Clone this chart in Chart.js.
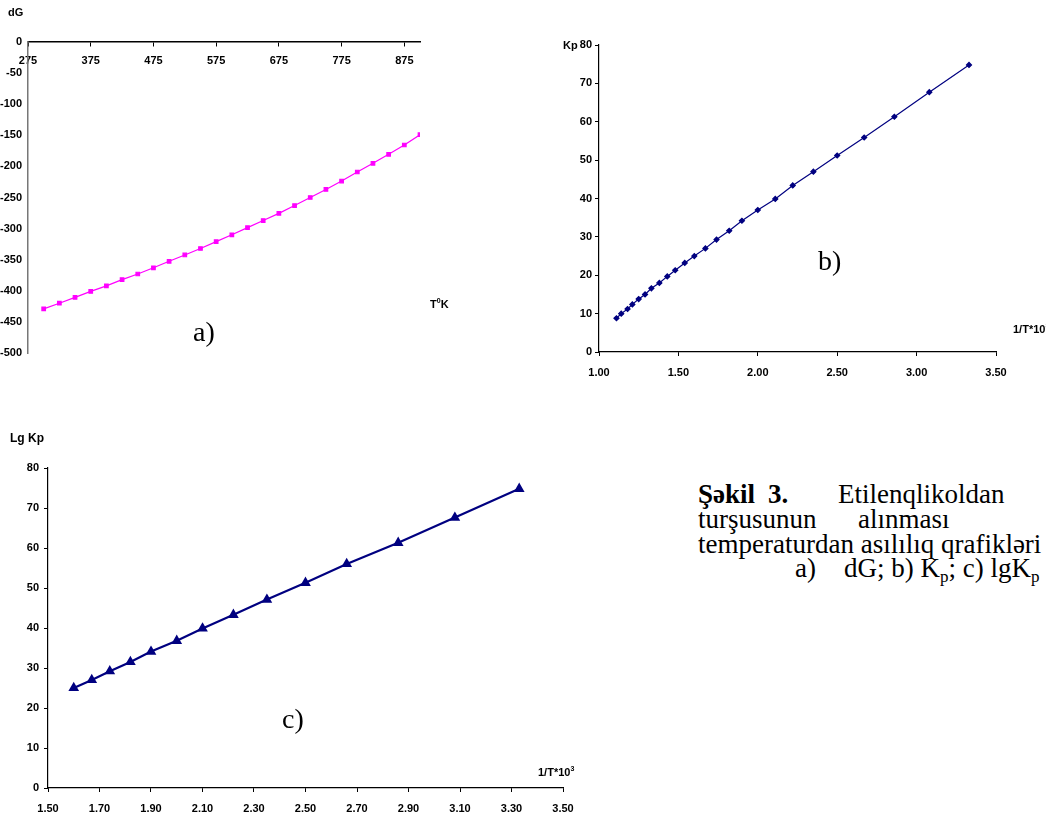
<!DOCTYPE html>
<html>
<head>
<meta charset="utf-8">
<script src="https://cdn.jsdelivr.net/npm/chart.js@4.4.0/dist/chart.umd.min.js"></script>
<style>
  html, body { margin: 0; padding: 0; background: #fff; overflow: hidden; }
  #page { position: relative; width: 1046px; height: 814px; overflow: hidden; }
  canvas { position: absolute; }
  .lbl { position: absolute; font-family: 'Liberation Sans', Arial, sans-serif; font-weight: bold; font-size: 11px; color: #000; white-space: nowrap; }
  .big { position: absolute; font-family: 'Liberation Serif', 'Times New Roman', serif; font-size: 28px; color: #000; }
  .cap { position: absolute; font-family: 'Liberation Serif', 'Times New Roman', serif; font-size: 27px; line-height: 27px; color: #000; white-space: nowrap; }
  sup { font-size: 7px; vertical-align: 5px; }
  .cap sub { font-size: 17px; vertical-align: -5px; }
</style>
</head>
<body>
<div id="page">
  <canvas id="chartA" width="440" height="370" style="left:0;top:0"></canvas>
  <canvas id="chartB" width="506" height="360" style="left:540px;top:30px"></canvas>
  <canvas id="chartC" width="600" height="394" style="left:0;top:420px"></canvas>

  <div class="lbl" style="left:8px;top:6px">dG</div>
  <div class="lbl" style="left:430px;top:297px">T<sup>0</sup>K</div>
  <div class="big" style="left:193px;top:316px">a)</div>

  <div class="lbl" style="left:563px;top:39px">Kp</div>
  <div class="big" style="left:818px;top:245px">b)</div>
  <div class="lbl" style="left:1013px;top:322px">1/T*10<sup>3</sup></div>

  <div class="lbl" style="left:10px;top:431px;font-size:12px">Lg Kp</div>
  <div class="big" style="left:282px;top:703px">c)</div>
  <div class="lbl" style="left:538px;top:765px">1/T*10<sup>3</sup></div>

  <div class="cap" style="left:698px;top:481px"><b>Şəkil</b></div>
  <div class="cap" style="left:768px;top:481px"><b>3.</b></div>
  <div class="cap" style="left:838px;top:481px">Etilenqlikoldan</div>
  <div class="cap" style="left:698px;top:506px">turşusunun</div>
  <div class="cap" style="left:858px;top:506px">alınması</div>
  <div class="cap" style="left:698px;top:531px">temperaturdan asılılıq qrafikləri</div>
  <div class="cap" style="left:795px;top:555px">a)</div>
  <div class="cap" style="left:844px;top:555px">dG; b) K<sub>p</sub>; c) lgK<sub>p</sub></div>
</div>

<script>
// a) dG vs temperature
var tempK = [300, 325, 350, 375, 400, 425, 450, 475, 500, 525, 550, 575, 600,
             625, 650, 675, 700, 725, 750, 775, 800, 825, 850, 875, 900];
var dG = [-429, -420, -410.5, -401, -392, -382, -373, -363, -352.6, -342.4, -332, -321, -310,
          -298.5, -287, -275.5, -263, -250, -237, -223.5, -209, -195, -180.6, -165.6, -149];
var tempTicks = [275, 375, 475, 575, 675, 775, 875];

// b) Kp vs 1/T*10^3
var invTb = [1.11, 1.14, 1.18, 1.21, 1.25, 1.29, 1.33, 1.38, 1.43, 1.48, 1.54, 1.60, 1.67,
             1.74, 1.82, 1.90, 2.00, 2.11, 2.22, 2.35, 2.50, 2.67, 2.86, 3.08, 3.33];
var kp = [8.8, 10.0, 11.2, 12.4, 13.8, 15.0, 16.6, 18.0, 19.7, 21.3, 23.2, 25.0, 27.0,
          29.3, 31.6, 34.2, 37.0, 39.9, 43.4, 47.0, 51.2, 55.9, 61.3, 67.7, 74.8];
var invTbTicks = [1.00, 1.50, 2.00, 2.50, 3.00, 3.50];

// c) lg Kp vs 1/T*10^3
var invTc = [1.60, 1.67, 1.74, 1.82, 1.90, 2.00, 2.10, 2.22, 2.35, 2.50, 2.66, 2.86, 3.08, 3.33];
var lgKp = [25.0, 27.0, 29.2, 31.5, 34.1, 36.8, 39.9, 43.3, 47.1, 51.3, 56.0, 61.3, 67.6, 74.8];
var invTcTicks = [1.50, 1.70, 1.90, 2.10, 2.30, 2.50, 2.70, 2.90, 3.10, 3.30, 3.50];

var kpTicks = [0, 10, 20, 30, 40, 50, 60, 70, 80];

var tickFont = { family: "'Liberation Sans', Arial, sans-serif", size: 11, weight: 'bold' };

function toPoints(xs, ys) {
  return xs.map(function (x, i) { return { x: x, y: ys[i] }; });
}

function fixTicks(list) {
  return function (scale) {
    scale.ticks = list.map(function (v) { return { value: v }; });
  };
}

function baseOptions() {
  return {
    responsive: false,
    animation: false,
    plugins: { legend: { display: false }, tooltip: { enabled: false } }
  };
}

// chart a
var optA = baseOptions();
optA.layout = { padding: { left: 0, right: 20, top: 42, bottom: 17 } };
optA.scales = {
  x: {
    type: 'linear', position: { y: 0 }, min: 275, max: 900,
    afterBuildTicks: fixTicks(tempTicks),
    grid: { drawOnChartArea: false, drawTicks: true, tickLength: 4, color: '#000' },
    border: { display: true, color: '#000', width: 1.5 },
    ticks: { font: tickFont, color: '#000', padding: 8, maxRotation: 0 }
  },
  y: {
    type: 'linear', min: -500, max: 0,
    ticks: { stepSize: 50, font: tickFont, color: '#000', padding: 6 },
    grid: { drawOnChartArea: false, drawTicks: false, color: '#777' },
    border: { display: true, color: '#777', width: 1.5 },
    afterFit: function (s) { s.width = 28; }
  }
};
new Chart('chartA', {
  type: 'line',
  data: {
    datasets: [{
      data: toPoints(tempK, dG),
      borderColor: '#ff00ff', backgroundColor: '#ff00ff', borderWidth: 1.2,
      pointStyle: 'rect', pointRadius: 2.5, tension: 0
    }]
  },
  options: optA
});

// chart b
var optB = baseOptions();
optB.layout = { padding: { left: 0, right: 50, top: 15, bottom: 8 } };
optB.scales = {
  x: {
    type: 'linear', min: 1, max: 3.5,
    afterBuildTicks: fixTicks(invTbTicks),
    grid: { drawOnChartArea: false, drawTicks: true, tickLength: 4, color: '#000' },
    border: { display: true, color: '#000', width: 1.2 },
    ticks: { font: tickFont, color: '#000', padding: 10, maxRotation: 0,
             callback: function (v) { return v.toFixed(2); } },
    afterFit: function (s) { s.height = 30; }
  },
  y: {
    type: 'linear', min: 0, max: 80,
    afterBuildTicks: fixTicks(kpTicks),
    ticks: { font: tickFont, color: '#000', padding: 3 },
    grid: { drawOnChartArea: false, drawTicks: true, tickLength: 4, color: '#000' },
    border: { display: true, color: '#000', width: 1.2 },
    afterFit: function (s) { s.width = 59; }
  }
};
new Chart('chartB', {
  type: 'line',
  data: {
    datasets: [{
      data: toPoints(invTb, kp),
      borderColor: '#000080', backgroundColor: '#000080', borderWidth: 1.2,
      pointStyle: 'rectRot', pointRadius: 2.5, tension: 0
    }]
  },
  options: optB
});

// chart c
var optC = baseOptions();
optC.layout = { padding: { left: 0, right: 37, top: 48, bottom: 0 } };
optC.scales = {
  x: {
    type: 'linear', min: 1.5, max: 3.5,
    afterBuildTicks: fixTicks(invTcTicks),
    grid: { drawOnChartArea: false, drawTicks: true, tickLength: 4, color: '#000' },
    border: { display: true, color: '#000', width: 1.2 },
    ticks: { font: tickFont, color: '#000', padding: 10, maxRotation: 0, autoSkip: false,
             callback: function (v) { return v.toFixed(2); } },
    afterFit: function (s) { s.height = 26; }
  },
  y: {
    type: 'linear', min: 0, max: 80,
    afterBuildTicks: fixTicks(kpTicks),
    ticks: { font: tickFont, color: '#000', padding: 5 },
    grid: { drawOnChartArea: false, drawTicks: true, tickLength: 4, color: '#000' },
    border: { display: true, color: '#000', width: 1.2 },
    afterFit: function (s) { s.width = 48; }
  }
};
new Chart('chartC', {
  type: 'line',
  data: {
    datasets: [{
      data: toPoints(invTc, lgKp),
      borderColor: '#000080', backgroundColor: '#000080', borderWidth: 2.2,
      pointStyle: 'triangle', pointRadius: 4, tension: 0
    }]
  },
  options: optC
});
</script>
</body>
</html>
